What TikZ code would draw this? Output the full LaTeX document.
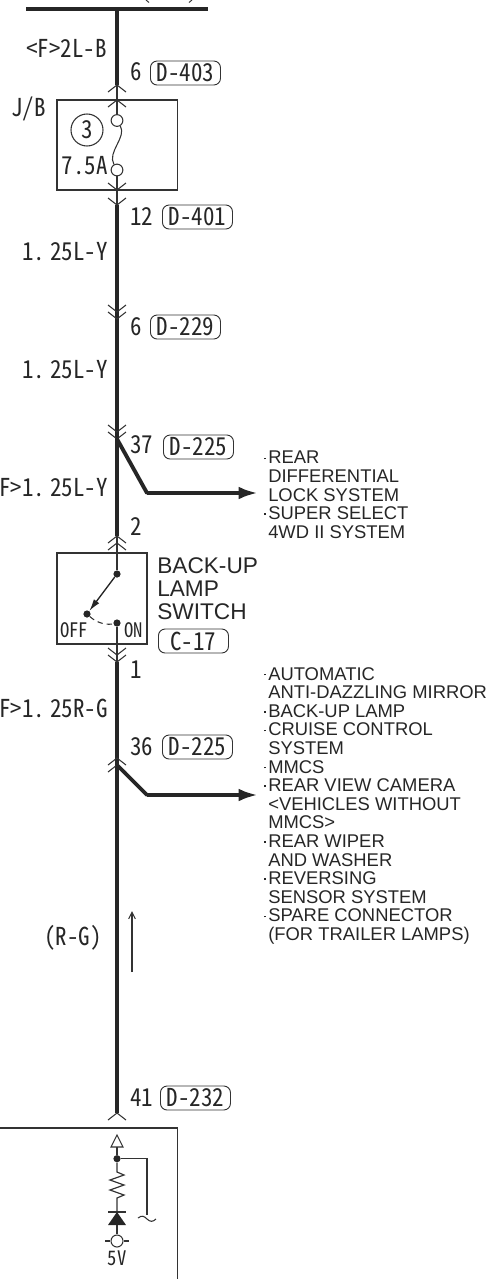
\documentclass[tikz,border=0pt]{standalone}
\usepackage{fontspec}
\setmainfont{Liberation Sans}
\newfontfamily\labfont[RawFeature=+hwid,FakeStretch=0.93]{Noto Sans CJK JP}
\usetikzlibrary{arrows.meta}
\tikzset{
 x=0.75pt,y=-0.75pt,
 wire/.style={line width=3.2pt,black!85},
 thin wire/.style={line width=0.9pt,black!80},
 frame/.style={draw=black!80,line width=0.8pt},
 lab/.style={inner sep=0pt,font=\labfont\fontsize{18.5}{20}\selectfont,text=black!85},
 smalllab/.style={inner sep=0pt,font=\labfont\fontsize{15}{16}\selectfont,text=black!85},
 tag/.style={draw=black!80,line width=0.7pt,rounded corners=5pt,inner sep=0pt,minimum height=18pt,minimum width=52.5pt,font=\labfont\fontsize{18.5}{20}\selectfont,text=black!85},
 blist/.style={inner sep=0pt,anchor=north west,align=left,font=\fontsize{13.8}{13.95}\selectfont,text=black!85},
 big/.style={inner sep=0pt,anchor=north west,align=left,font=\fontsize{17}{17.4}\selectfont,text=black!85},
 dotn/.style={circle,fill=black!85,inner sep=0pt,minimum size=5.4pt},
 ring/.style={circle,draw=black!80,fill=white,line width=0.8pt,inner sep=0pt,minimum size=8.8pt},
 chev/.pic={\draw[line width=0.8pt,black!80] (-9,7)--(0,0)--(9,7);},
 chevd/.pic={\draw[line width=0.8pt,black!80] (-9,-7)--(0,0)--(9,-7);},
 out arrow/.style={wire,line width=2.9pt,-{Latex[length=14.5pt,width=9.5pt]}},
}
\newcommand{\dotitem}{\makebox[3pt][l]{\raisebox{3.5pt}{\rule{1.3pt}{1.3pt}}}}
\newcommand{\blankitem}{\hspace*{3pt}}
\begin{document}
\begin{tikzpicture}
\useasboundingbox (0,0) rectangle (491,1279);
\coordinate (top) at (117,9);
\coordinate (busL) at (26,9);
\coordinate (busR) at (208,9);
\draw[wire,line width=2.6pt] (busL) -- (busR);
\draw[line width=0.7pt,black!80] (146,0) to[bend right=20] (149,2.5);
\draw[line width=0.7pt,black!80] (192,0) to[bend left=20] (189,2.5);
% J/B
\draw[frame] (57,100) rectangle (177.5,190);
\coordinate (w1) at (117,85);
\coordinate (w2) at (117,205);
\coordinate (w3) at (117,439);
\coordinate (w4) at (117,536);
\coordinate (w5) at (117,662);
\coordinate (w6) at (117,1113);
\draw[wire] (top) -- (w1);
\draw[wire] (w2) -- (w3) -- (w4);
\draw[wire] (w5) -- (w6);
\node[ring] (f1) at (117,120.5) {};
\node[ring] (f2) at (117,170) {};
\draw[thin wire] (w1) -- (f1);
\draw[thin wire] (f2) -- (w2);
\draw[line width=0.8pt,black!80] (f1) .. controls (127,137) and (107,152) .. (f2);
\pic at (117,85) {chev};
\pic at (117,100) {chev};
\pic at (117,190) {chevd};
\pic at (117,205) {chevd};
\node[circle,draw=black!80,line width=0.8pt,minimum size=24pt,inner sep=0pt,lab] (n3) at (87,130) {3};
\node[lab,anchor=east] (a75) at (108,166) {7.5A};
\node[lab,anchor=west] (jbl) at (11,109) {J/B};
\node[lab,anchor=east] (w2lb) at (107,48) {<F>2L-B};
\node[lab,anchor=west] (p6a) at (130,72) {6};
\node[tag,anchor=west] (d403) at (150,73) {D-403};
\node[lab,anchor=west] (p12) at (130,217) {12};
\node[tag,anchor=west] (d401) at (162,217) {D-401};
\node[lab,anchor=east] (w125a) at (108,252) {1.\kern4pt 25L-Y};
\pic at (117,312) {chevd};
\pic at (117,319) {chevd};
\node[lab,anchor=west] (p6b) at (130,327) {6};
\node[tag,anchor=west] (d229) at (150,327) {D-229};
\node[lab,anchor=east] (w125b) at (108,370) {1.\kern4pt 25L-Y};
\pic at (117,432) {chevd};
\pic at (117,439) {chevd};
\node[lab,anchor=west] (p37) at (130,445) {37};
\node[tag,anchor=west] (d225a) at (163,447) {D-225};
\coordinate (b1) at (147,493);
\coordinate (e1) at (258,493);
\draw[wire,line cap=round,line width=2.9pt] (w3) -- (b1);
\draw[out arrow] (b1) -- (e1);
\node[lab,anchor=east] (w125c) at (108,488) {F>1.\kern4pt 25L-Y};
\node[lab,anchor=west] (p2) at (130,527) {2};
\pic at (117,536) {chev};
\pic at (117,543) {chev};
% switch
\draw[frame] (57,553) rectangle (147,644);
\node[dotn] (s1) at (117,574) {};
\node[dotn] (s2) at (87,614) {};
\node[dotn] (s3) at (117,623) {};
\draw[thin wire] (w4) -- (s1);
\draw[line width=1pt,black!85,-{Latex[length=9pt,width=5pt]}] (s1) -- (s2);
\draw[line width=0.8pt,black!80,dash pattern=on 4pt off 3pt] (s2) .. controls (98,624) and (108,625) .. (s3);
\draw[thin wire] (s3) -- (w5);
\node[smalllab,anchor=west] (off) at (60,630) {OFF};
\node[smalllab,anchor=west] (on) at (124,630) {ON};
\node[big] (bls) at (157,557) {BACK-UP\\LAMP\\SWITCH};
\node[tag,anchor=west] (c17) at (158,641) {C-17};
\pic at (117,655) {chevd};
\pic at (117,662) {chevd};
\node[lab,anchor=west] (p1) at (130,670) {1};
\node[lab,anchor=east] (w125d) at (108,708) {F>1.\kern4pt 25R-G};
\node[lab,anchor=west] (p36) at (130,747) {36};
\node[tag,anchor=west] (d225b) at (162,747) {D-225};
\pic at (117,758) {chev};
\pic at (117,765) {chev};
\coordinate (j2) at (117,765);
\coordinate (b2) at (147,795);
\coordinate (e2) at (258,795);
\draw[wire,line cap=round,line width=2.9pt] (j2) -- (b2);
\draw[out arrow] (b2) -- (e2);
\node[lab,anchor=east] (rg) at (102,938) {(R-G)};
\coordinate (ca) at (132,972);
\coordinate (cb) at (132,911);
\draw[line width=0.8pt,black!80,-{Straight Barb[length=5pt,width=5pt]}] (ca) -- (cb);
\node[lab,anchor=west] (p41) at (130,1098) {41};
\node[tag,anchor=west] (d232) at (160,1098) {D-232};
\pic at (117,1113) {chev};
\node[blist] (l1) at (264,451) {\dotitem REAR\\\blankitem DIFFERENTIAL\\\blankitem LOCK SYSTEM\\\dotitem SUPER SELECT\\\blankitem 4WD II SYSTEM};
\node[blist] (l2) at (264,667) {\dotitem AUTOMATIC\\\blankitem ANTI-DAZZLING MIRROR\\\dotitem BACK-UP LAMP\\\dotitem CRUISE CONTROL\\\blankitem SYSTEM\\\dotitem MMCS\\\dotitem REAR VIEW CAMERA\\\blankitem <VEHICLES WITHOUT\\\blankitem MMCS>\\\dotitem REAR WIPER\\\blankitem AND WASHER\\\dotitem REVERSING\\\blankitem SENSOR SYSTEM\\\dotitem SPARE CONNECTOR\\\blankitem (FOR TRAILER LAMPS)};
% bottom box
\draw[frame] (0,1128) -- (177.5,1128) -- (177.5,1279);
\coordinate (tria) at (117,1135);
\coordinate (trib) at (117,1147);
\coordinate (jd) at (117,1158.7);
\draw[line width=0.8pt,black!80,fill=white] (tria) -- (123,1147) -- (111,1147) -- cycle;
\node[dotn] (jn) at (jd) {};
\draw[thin wire] (trib) -- (jn);
\coordinate (turn) at (147,1158.7);
\coordinate (lend) at (147,1215);
\draw[line width=0.8pt,black!80] (jn) -- (turn) -- (lend);
\draw[line width=0.8pt,black!80] (138,1218) .. controls (142,1215) and (144,1216) .. (147,1219) .. controls (150,1222) and (153,1222) .. (156,1219);
\coordinate (r0) at (117,1172);
\coordinate (r1) at (117,1200);
\coordinate (dt) at (117,1212);
\draw[thin wire] (jn) -- (r0) -- (124,1175) -- (110,1180) -- (124,1185) -- (110,1190) -- (124,1195) -- (117,1198) -- (r1) -- (dt);
\draw[line width=0.8pt,black!80] (108,1212) -- (126,1212);
\fill[black!85] (dt) -- (126,1225) -- (108,1225) -- cycle;
\node[ring,minimum size=9pt] (gr) at (117,1241) {};
\draw[thin wire] (117,1225) -- (gr);
\draw[line width=0.8pt,black!80] (105,1241) -- (gr);
\draw[line width=0.8pt,black!80] (gr) -- (129,1241);
\node[smalllab] (v5) at (117,1258) {5V};
\end{tikzpicture}
\end{document}
